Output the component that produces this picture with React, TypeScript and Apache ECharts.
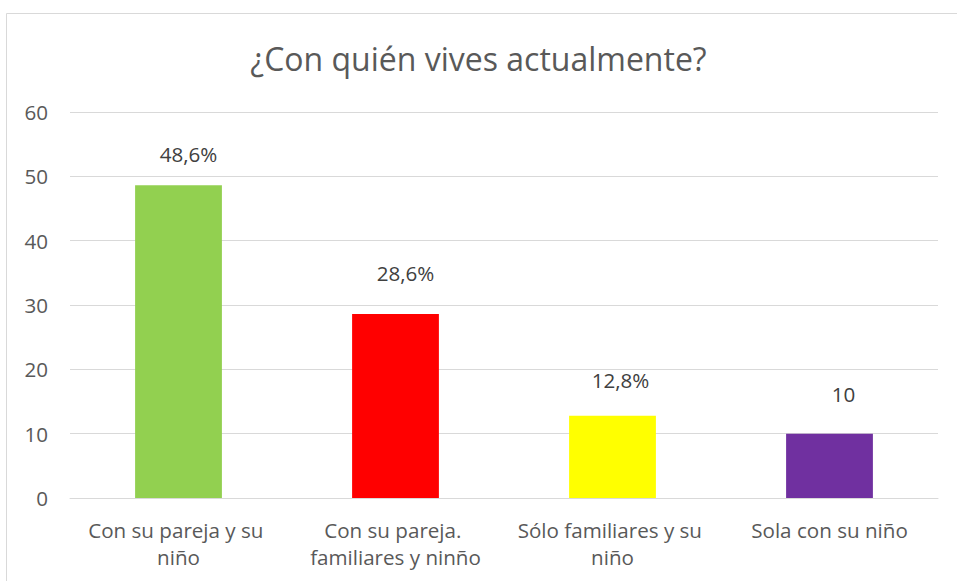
import React, { useEffect, useRef } from "react";
import * as echarts from "echarts";

const titleText = "¿Con quién vives actualmente?";
const categories = [
  "Con su pareja y su niño",
  "Con su pareja. familiares y ninño",
  "Sólo familiares y su niño",
  "Sola con su niño",
];
const values = [48.6, 28.6, 12.8, 10];
const valueLabels = ["48,6%", "28,6%", "12,8%", "10"];
const barColors = ["#92D050", "#FF0000", "#FFFF00", "#7030A0"];
// label placement tweaks (style only)
const labelOffsets = [
  [10, -21],
  [10, -31],
  [8, -25],
  [14, -29],
];

const FONT = "'Open Sans', 'Noto Sans', sans-serif";
const TEXT = "#595959";

export default function App() {
  const ref = useRef<HTMLDivElement>(null);
  useEffect(() => {
    if (!ref.current) return;
    const chart = echarts.init(ref.current, null, { renderer: "svg" });
    chart.setOption({
      animation: false,
      backgroundColor: "#ffffff",
      textStyle: { fontFamily: FONT },
      title: {
        text: titleText,
        left: "center",
        top: 37,
        textStyle: { fontFamily: FONT, fontSize: 32, fontWeight: "normal", color: TEXT },
      },
      graphic: [
        {
          type: "rect",
          shape: { x: 6.5, y: 13.5, width: 1000, height: 700 },
          style: { fill: "none", stroke: "#d9d9d9", lineWidth: 1 },
          silent: true,
          z: -1,
        },
      ],
      grid: { left: 70, right: 19, top: 112, bottom: 83 },
      xAxis: {
        type: "category",
        data: categories,
        axisLine: { show: true, lineStyle: { color: "#d9d9d9", width: 1 } },
        axisTick: { show: false },
        axisLabel: {
          color: TEXT,
          fontFamily: FONT,
          fontSize: 20.6,
          lineHeight: 27,
          margin: 18,
          width: 200,
          overflow: "break",
          interval: 0,
        },
      },
      yAxis: {
        type: "value",
        min: 0,
        max: 60,
        interval: 10,
        axisLine: { show: false },
        axisTick: { show: false },
        splitLine: { lineStyle: { color: "#d9d9d9", width: 1 } },
        axisLabel: { color: TEXT, fontFamily: FONT, fontSize: 20.6, margin: 22 },
      },
      series: [
        {
          type: "bar",
          barWidth: "40%",
          data: values.map((v, i) => ({
            value: v,
            itemStyle: { color: barColors[i] },
            label: {
              show: true,
              position: "top",
              distance: 0,
              offset: labelOffsets[i],
              formatter: () => valueLabels[i],
              color: "#404040",
              fontFamily: FONT,
              fontSize: 20.6,
            },
          })),
        },
      ],
    });
    return () => chart.dispose();
  }, []);
  return (
    <div
      ref={ref}
      style={{ position: "fixed", left: 0, top: 0, width: 957, height: 581 }}
    />
  );
}
